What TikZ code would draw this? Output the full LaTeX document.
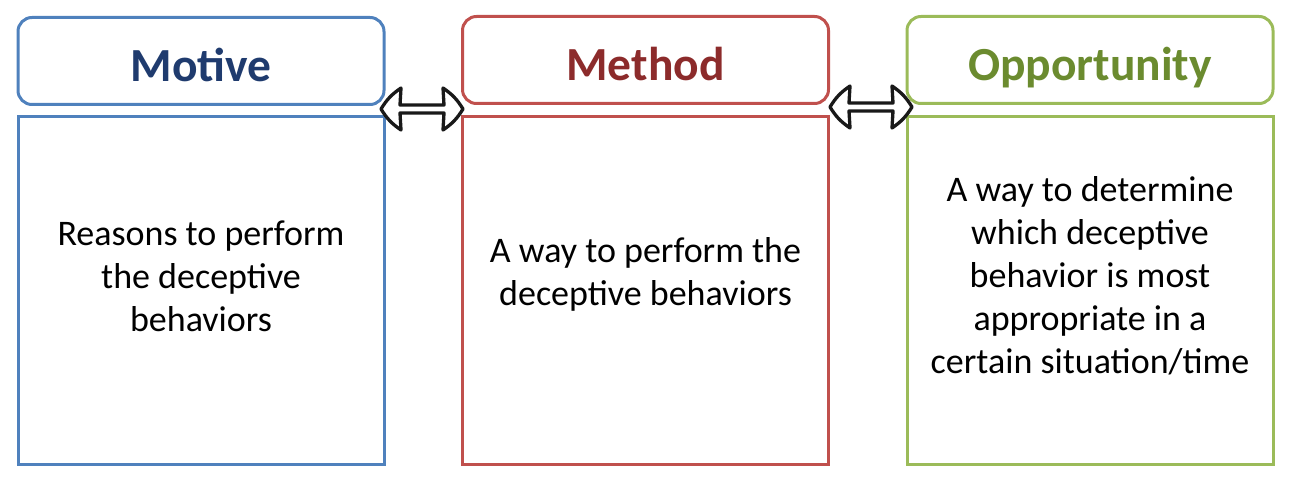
\documentclass[tikz,border=0pt]{standalone}
\usepackage{fontspec}
\setmainfont{Carlito}
\usetikzlibrary{calc}
\definecolor{mblue}{HTML}{4F81BD}
\definecolor{tblue}{HTML}{1F3B6E}
\definecolor{mred}{HTML}{C0504D}
\definecolor{tred}{HTML}{8C2B2B}
\definecolor{mgreen}{HTML}{9BBB59}
\definecolor{tgreen}{HTML}{6B8B2F}
\tikzset{
  hdr/.style={draw, line width=3pt, rounded corners=14pt, minimum width=366pt, minimum height=87pt, inner sep=0pt},
  ttl/.style={inner sep=0pt, anchor=base, font=\fontsize{47.5}{52}\selectfont\bfseries},
  bodybox/.style={draw, line width=3pt, minimum width=366pt, minimum height=347pt, inner sep=0pt},
  bodytxt/.style={align=center, font=\fontsize{36}{43}\selectfont, inner sep=0pt},
  arr/.style={draw=black!90, line width=3.3pt, line join=round, fill=white},
}
\newcommand\blockarrow[2]{%
  \path[arr] let \p1=(#1), \p2=(#2) in
    (\x1,\y1) to[bend left=12] (\x1+20pt,\y1+21pt) -- (\x1+19pt,\y1+4pt) -- (\x2-19pt,\y1+4pt)
    -- (\x2-20pt,\y1+21pt) to[bend left=12] (\x2,\y1) to[bend left=12] (\x2-20pt,\y1-21pt)
    -- (\x2-19pt,\y1-4pt) -- (\x1+19pt,\y1-4pt) -- (\x1+20pt,\y1-21pt) to[bend left=12] cycle;
}
\begin{document}
\begin{tikzpicture}[x=1pt,y=-1pt]
\useasboundingbox (0,0) rectangle (1290,489);
% headers
\node[hdr, draw=mblue] (mh) at (201,61) {};
\node[hdr, draw=mred] (eh) at (645.5,60) {};
\node[hdr, draw=mgreen] (oh) at (1090,60) {};
\node[ttl, text=tblue] (mtt) at (201,82) {Motive};
\node[ttl, text=tred] (ett) at (645.5,81) {Method};
\node[ttl, text=tgreen] (ott) at (1090,81) {Opportunity};
% bodies
\node[bodybox, draw=mblue] (mb) at (201,290.5) {};
\node[bodybox, draw=mred] (eb) at (645.5,290.5) {};
\node[bodybox, draw=mgreen] (ob) at (1090,290.5) {};
% texts
\node[bodytxt] (mt) at (201,276) {Reasons to perform\\the deceptive\\behaviors};
\node[bodytxt] (et) at (645.5,274) {A way to perform the\\deceptive behaviors};
\node[bodytxt] (ot) at (1090,276) {A way to determine\\which deceptive\\behavior is most\\appropriate in a\\certain situation/time};
% arrows
\coordinate (a1l) at (381,109);
\coordinate (a1r) at (463,109);
\coordinate (a2l) at (830,107);
\coordinate (a2r) at (912,107);
\blockarrow{a1l}{a1r}
\blockarrow{a2l}{a2r}
\end{tikzpicture}
\end{document}
